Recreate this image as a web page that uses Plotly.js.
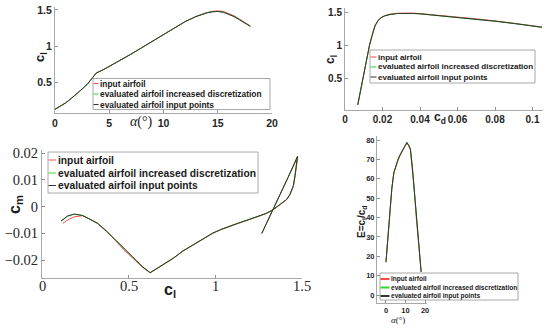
<!DOCTYPE html>
<html>
<head>
<meta charset="utf-8">
<script src="https://cdn.plot.ly/plotly-3.0.1.min.js"></script>
<style>html,body{margin:0;padding:0;background:#fff;}#chart{width:550px;height:328px;}</style>
</head>
<body>
<div id="chart"></div>
<script>
// ---------- DATA ----------
const seriesNames = ["input airfoil", "evaluated airfoil increased discretization", "evaluated airfoil input points"];

// Panel 1: cl vs alpha
const alpha1 = [0, 0.5, 1, 1.5, 2, 2.5, 3, 3.5, 3.8, 4.5, 5, 6, 7, 8, 9, 10, 11, 12, 13, 13.5, 14, 14.5, 15, 15.5, 16, 16.5, 17, 17.5, 18];
const cl1_input = [0.13, 0.17, 0.22, 0.28, 0.34, 0.41, 0.48, 0.57, 0.63, 0.68, 0.72, 0.80, 0.89, 0.98, 1.07, 1.16, 1.25, 1.34, 1.41, 1.44, 1.465, 1.48, 1.487, 1.48, 1.455, 1.42, 1.375, 1.33, 1.28];
const cl1_fine  = [0.13, 0.17, 0.22, 0.28, 0.34, 0.41, 0.48, 0.57, 0.63, 0.68, 0.72, 0.80, 0.89, 0.98, 1.07, 1.16, 1.25, 1.34, 1.41, 1.44, 1.46, 1.475, 1.48, 1.47, 1.445, 1.41, 1.365, 1.32, 1.275];
const cl1_pts   = [0.13, 0.17, 0.22, 0.28, 0.34, 0.41, 0.48, 0.57, 0.63, 0.68, 0.72, 0.80, 0.89, 0.98, 1.07, 1.16, 1.25, 1.34, 1.41, 1.44, 1.46, 1.475, 1.48, 1.47, 1.445, 1.41, 1.365, 1.32, 1.275];

// Panel 2: cl vs cd
const cd2 = [0.0068, 0.0085, 0.010, 0.0115, 0.013, 0.0145, 0.016, 0.0175, 0.019, 0.021, 0.024, 0.028, 0.032, 0.036, 0.04, 0.05, 0.06, 0.07, 0.08, 0.09, 0.1, 0.105];
const cl2_input = [0.11, 0.35, 0.60, 0.82, 1.00, 1.17, 1.31, 1.38, 1.425, 1.455, 1.478, 1.492, 1.497, 1.493, 1.487, 1.463, 1.437, 1.407, 1.377, 1.343, 1.305, 1.285];
const cl2_fine  = [0.11, 0.35, 0.60, 0.82, 1.00, 1.16, 1.30, 1.375, 1.42, 1.45, 1.473, 1.488, 1.492, 1.489, 1.483, 1.458, 1.432, 1.402, 1.372, 1.338, 1.300, 1.280];
const cl2_pts   = [0.11, 0.35, 0.60, 0.82, 1.00, 1.16, 1.30, 1.375, 1.42, 1.45, 1.473, 1.488, 1.492, 1.489, 1.483, 1.458, 1.432, 1.402, 1.372, 1.338, 1.300, 1.280];

// Panel 3: cm vs cl
const cl3_input = [0.12, 0.15, 0.186, 0.234, 0.27, 0.32, 0.37, 0.414, 0.47, 0.53, 0.58, 0.624, 0.69, 0.757, 0.81, 0.87, 0.93, 0.985, 1.03, 1.08, 1.135, 1.19, 1.24, 1.29, 1.327, 1.36, 1.384, 1.41, 1.43, 1.45, 1.46, 1.47, 1.476, 1.42, 1.37, 1.32, 1.268];
const cm3_input = [-0.0063, -0.0049, -0.0038, -0.0034, -0.0045, -0.0063, -0.0092, -0.0120, -0.0160, -0.0198, -0.0227, -0.0248, -0.0222, -0.0194, -0.0168, -0.0144, -0.0121, -0.0100, -0.0087, -0.0074, -0.0062, -0.0050, -0.0038, -0.0027, -0.0015, 0.0000, 0.0012, 0.0025, 0.0044, 0.0075, 0.0113, 0.0160, 0.0186, 0.0110, 0.0040, -0.0028, -0.0100];
const cl3_fine  = [0.11, 0.148, 0.186, 0.234, 0.27, 0.32, 0.37, 0.414, 0.47, 0.53, 0.58, 0.624, 0.69, 0.757, 0.81, 0.87, 0.93, 0.985, 1.03, 1.08, 1.135, 1.19, 1.24, 1.29, 1.327, 1.36, 1.384, 1.41, 1.43, 1.45, 1.46, 1.47, 1.474, 1.42, 1.37, 1.32, 1.268];
const cm3_fine  = [-0.0054, -0.0035, -0.0028, -0.0033, -0.0045, -0.0062, -0.0090, -0.0118, -0.0157, -0.0195, -0.0225, -0.0247, -0.0221, -0.0193, -0.0167, -0.0143, -0.0120, -0.0099, -0.0086, -0.0073, -0.0061, -0.0049, -0.0037, -0.0026, -0.0014, 0.0001, 0.0013, 0.0026, 0.0045, 0.0078, 0.0118, 0.0165, 0.0188, 0.0110, 0.0040, -0.0028, -0.0100];
const cl3_pts   = cl3_fine;
const cm3_pts   = cm3_fine;

// Panel 4: E = cl/cd vs alpha
const alpha4 = [0, 1, 2, 3, 4, 5, 6, 7, 8, 9, 10, 10.7, 11.5, 12.5, 13.5, 14.5, 15.5, 16.5, 17.5, 18];
const E4_input = [17, 30, 43, 55, 63, 66.5, 69, 71.5, 73.5, 75.5, 77.3, 78.0, 77.3, 75.0, 66, 54, 40, 27, 16.5, 12];
const E4_fine  = [17, 30, 43, 55, 63, 67, 69.5, 72, 74, 76, 78, 78.8, 77.6, 75.3, 66, 54, 40, 27, 16.5, 12];
const E4_pts   = [17, 30, 43, 55, 63, 67, 69.5, 72, 74, 76, 78, 78.8, 77.6, 75.3, 66, 54, 40, 27, 16.5, 12];

// Tick labels
const p1xTicks = [0, 5, 10, 15, 20];
const p1yTicks = [0.5, 1, 1.5];
const p1yText = ["0.5", "1", "1.5"];
const p2xTicks = [0, 0.02, 0.04, 0.06, 0.08, 0.1];
const p2xText = ["0", "0.02", "0.04", "0.06", "0.08", "0.1"];
const p2yTicks = [0.5, 1, 1.5];
const p2yText = ["0.5", "1", "1.5"];
const p3xTicks = [0, 0.5, 1, 1.5];
const p3xText = ["0", "0.5", "1", "1.5"];
const p3yTicks = [-0.02, -0.01, 0, 0.01, 0.02];
const p3yText = ["\u22120.02", "\u22120.01", "0", "0.01", "0.02"];
const p4xTicks = [0, 10, 20];
const p4yTicks = [0, 10, 20, 30, 40, 50, 60, 70, 80];

// ---------- STYLE ----------
const W = 550, H = 328;
const PX = p => p / W;
const PY = p => 1 - p / H;
const colors = ["#ff4a4a", "#33d633", "#333333"];
const sans = "Liberation Sans, Arial, sans-serif";
const serif = "Liberation Serif, Times New Roman, serif";

const traces = [];
function addPanel(xs, ys, xa, ya) {
  for (let i = 0; i < 3; i++) {
    traces.push({
      type: "scatter", mode: "lines", x: xs[i], y: ys[i],
      xaxis: xa, yaxis: ya, name: seriesNames[i], showlegend: false,
      line: {color: colors[i], width: 1}, hoverinfo: "skip"
    });
  }
}
addPanel([alpha1, alpha1, alpha1], [cl1_input, cl1_fine, cl1_pts], "x", "y");
addPanel([cd2, cd2, cd2], [cl2_input, cl2_fine, cl2_pts], "x2", "y2");
addPanel([cl3_input, cl3_fine, cl3_pts], [cm3_input, cm3_fine, cm3_pts], "x3", "y3");
addPanel([alpha4, alpha4, alpha4], [E4_input, E4_fine, E4_pts], "x4", "y4");

function ax(extra, fontSize, fam, weight) {
  return Object.assign({
    showline: true, linecolor: "#a8a8a8", linewidth: 1,
    ticks: "inside", ticklen: 3, tickcolor: "#909090", tickwidth: 1,
    showgrid: false, zeroline: false, fixedrange: true,
    tickmode: "array",
    tickfont: {family: fam, size: fontSize, color: "#262626", weight: weight}
  }, extra);
}

const layout = {
  width: W, height: H,
  margin: {l: 0, r: 0, t: 0, b: 0},
  paper_bgcolor: "#fff", plot_bgcolor: "rgba(0,0,0,0)",
  showlegend: false,
  xaxis:  ax({domain: [PX(55), PX(272)], range: [0, 20], anchor: "y", tickvals: p1xTicks, ticktext: p1xTicks.map(String)}, 10.5, sans, "bold"),
  yaxis:  ax({domain: [PY(113), PY(7)], range: [0.079, 1.541], anchor: "x", tickvals: p1yTicks, ticktext: p1yText}, 10.5, sans, "bold"),
  xaxis2: ax({domain: [PX(345), PX(543)], range: [0, 0.1056], anchor: "y2", tickvals: p2xTicks, ticktext: p2xText}, 10, sans, "bold"),
  yaxis2: ax({domain: [PY(110), PY(8)], range: [0.032, 1.571], anchor: "x2", tickvals: p2yTicks, ticktext: p2yText}, 10, sans, "bold"),
  xaxis3: ax({domain: [PX(42), PX(302)], range: [0, 1.5], anchor: "y3", tickvals: p3xTicks, ticktext: p3xText, showticklabels: false}, 14.5, serif, "normal"),
  yaxis3: ax({domain: [PY(278), PY(150)], range: [-0.0267, 0.0212], anchor: "x3", tickvals: p3yTicks, ticktext: p3yText}, 14.5, serif, "normal"),
  xaxis4: ax({domain: [PX(377), PX(427)], range: [-4.6, 21], anchor: "y4", tickvals: p4xTicks, ticktext: p4xTicks.map(String)}, 7.5, sans, "bold"),
  yaxis4: ax({domain: [PY(303), PY(136)], range: [-4.1, 82.1], anchor: "x4", tickvals: p4yTicks, ticktext: p4yTicks.map(String)}, 7.5, sans, "bold"),
  shapes: [],
  annotations: []
};

// Panel 3 x tick labels, placed on the x3 scale, sitting close to the axis
p3xTicks.forEach((v, i) => {
  layout.annotations.push({
    xref: "x3", yref: "paper", x: v, y: PY(286), text: p3xText[i],
    showarrow: false, xanchor: "center", yanchor: "middle",
    font: {family: serif, size: 14.5, color: "#262626"}
  });
});

function label(text, x, y, size, fam, angle, weight) {
  layout.annotations.push({
    xref: "paper", yref: "paper", x: PX(x), y: PY(y), text: text,
    showarrow: false, xanchor: "center", yanchor: "middle",
    textangle: angle || 0, font: {family: fam, size: size, color: "#1a1a1a", weight: weight || "normal"}
  });
}
// Axis titles
label("c<sub>l</sub>", 40, 57, 13, sans, -90, "bold");
label("<i>α</i>(°)", 141, 122, 14, serif);
label("c<sub>l</sub>", 331, 60, 12, sans, -90, "bold");
label("c<sub>d</sub>", 440, 118, 12, sans, 0, "bold");
label("c<sub>m</sub>", 15, 205, 16, sans, -90, "bold");
label("c<sub>l</sub>", 170, 290, 16, sans, 0, "bold");
label("E=c<sub>l</sub>/c<sub>d</sub>", 362, 222, 10, sans, -90, "bold");
label("<i>α</i>(°)", 398, 320, 9, serif);

// Legends (box, line samples, texts)
function legendBox(x0, x1, y0, y1, rows, lineX0, lineX1, textX, size, lw) {
  layout.shapes.push({type: "rect", xref: "paper", yref: "paper",
    x0: PX(x0), x1: PX(x1), y0: PY(y1), y1: PY(y0),
    line: {color: "#a8a8a8", width: 1}, fillcolor: "#ffffff", layer: "above"});
  rows.forEach((ry, i) => {
    layout.shapes.push({type: "line", xref: "paper", yref: "paper",
      x0: PX(lineX0), x1: PX(lineX1), y0: PY(ry), y1: PY(ry),
      line: {color: colors[i], width: lw}, layer: "above"});
    layout.annotations.push({xref: "paper", yref: "paper", x: PX(textX), y: PY(ry),
      text: seriesNames[i], showarrow: false, xanchor: "left", yanchor: "middle",
      borderpad: 0, font: {family: sans, size: size, color: "#1a1a1a", weight: "bold"}});
  });
}
legendBox(93, 270, 78.5, 109.5, [83.5, 94, 104.5], 93.5, 98.5, 99, 8.4, 1);
legendBox(370, 535, 50, 83, [57, 67, 77], 370.5, 376.5, 376.5, 8.05, 1);
legendBox(48, 258, 152, 193, [160, 173, 185.5], 48.5, 56, 56.5, 10.27, 1);
legendBox(380, 518, 273, 300, [279, 287.5, 296], 380.5, 389.5, 390, 6.55, 2);

Plotly.newPlot("chart", traces, layout, {displayModeBar: false, staticPlot: true});
</script>
</body>
</html>
